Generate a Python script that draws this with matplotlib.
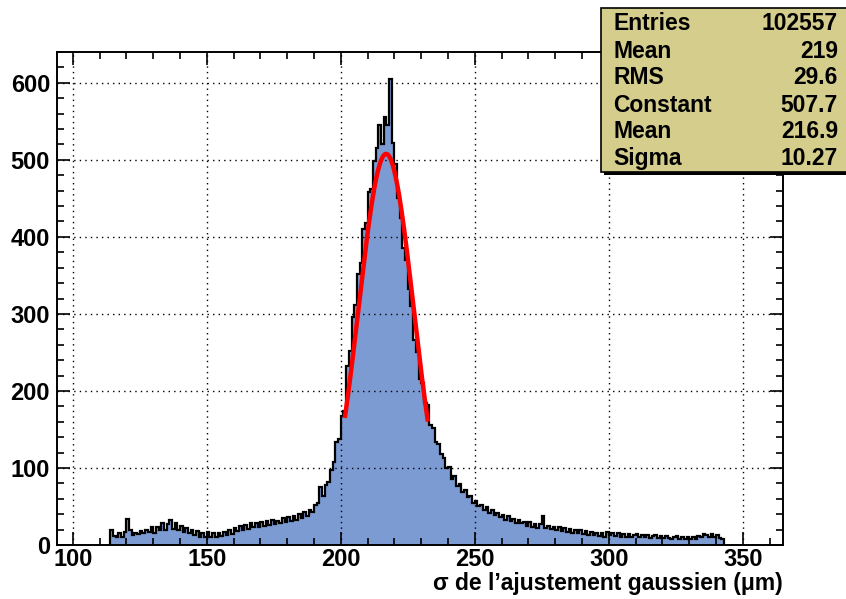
import numpy as np
import matplotlib.pyplot as plt
from matplotlib.patches import Rectangle
from matplotlib.ticker import MultipleLocator

# histogram contents, 1 um bins starting at 114 um
bin_start = 114
counts = [
    19, 12, 10, 15, 11, 17, 34, 19, 13, 16,   # 114-123
    14, 18, 15, 20, 17, 23, 16, 24, 19, 28,   # 124-133
    20, 27, 32, 21, 29, 19, 25, 17, 22, 15,   # 134-143
    20, 13, 18, 11, 15, 10, 17, 11, 15, 10,   # 144-153
    16, 12, 17, 13, 19, 14, 22, 18, 25, 20,   # 154-163
    26, 21, 28, 23, 29, 24, 30, 25, 31, 26,   # 164-173
    33, 27, 31, 28, 35, 30, 36, 31, 38, 33,   # 174-183
    40, 35, 43, 38, 46, 43, 52, 55, 75, 64,   # 184-193
    78, 82, 98, 108, 134, 138, 168, 174, 232, 252,   # 194-203
    296, 312, 352, 366, 410, 418, 458, 462, 498, 515,  # 204-213
    545, 520, 555, 545, 605, 522, 495, 450, 425, 385,  # 214-223
    370, 332, 310, 266, 250, 215, 210, 184, 182, 156,  # 224-233
    152, 134, 131, 118, 113, 100, 101, 86, 90, 77,    # 234-243
    79, 69, 71, 62, 63, 55, 57, 50, 52, 46,           # 244-253
    49, 42, 45, 39, 42, 36, 39, 33, 38, 31,           # 254-263
    34, 29, 32, 28, 30, 25, 30, 24, 27, 22,           # 264-273
    27, 37, 22, 25, 21, 24, 19, 23, 18, 22,           # 274-283
    17, 21, 16, 20, 15, 19, 14, 18, 13, 17,           # 284-293
    13, 16, 12, 16, 11, 17, 13, 15, 12, 15,           # 294-303
    11, 14, 11, 14, 10, 13, 14, 10, 13, 10,           # 304-313
    13, 9, 12, 13, 9, 12, 9, 12, 9, 8,                # 314-323
    11, 12, 8, 11, 8, 11, 8, 11, 8, 12,               # 324-333
    11, 14, 13, 11, 14, 10, 13, 9, 8,                 # 334-342
]

# gaussian fit parameters and fit range
fit_const = 507.7
fit_mean = 216.9
fit_sigma = 10.27
fit_range = (201.5, 232.5)

stats_names = ['Entries', 'Mean', 'RMS', 'Constant', 'Mean', 'Sigma']
stats_values = ['102557', '219', '29.6', '507.7', '216.9', '10.27']

plt.rcParams['font.family'] = ['Liberation Sans', 'DejaVu Sans']
plt.rcParams['font.weight'] = 'bold'

fig = plt.figure(figsize=(8.46, 5.99), dpi=100)
ax = fig.add_axes([57 / 846, 1 - 545 / 599, (783 - 57) / 846, (545 - 52) / 599])

edges = np.arange(bin_start, bin_start + len(counts) + 1)
ax.stairs(counts, edges, fill=True, color='#7b9bd2', baseline=0)
ax.stairs(counts, edges, color='black', lw=1.6, baseline=0)

xf = np.linspace(fit_range[0], fit_range[1], 200)
ax.plot(xf, fit_const * np.exp(-0.5 * ((xf - fit_mean) / fit_sigma) ** 2),
        color='red', lw=3.2, solid_capstyle='butt')

ax.set_xlim(94.1, 365)
ax.set_ylim(0, 640)
ax.xaxis.set_major_locator(MultipleLocator(50))
ax.xaxis.set_minor_locator(MultipleLocator(10))
ax.yaxis.set_major_locator(MultipleLocator(100))
ax.yaxis.set_minor_locator(MultipleLocator(20))
ax.tick_params(which='both', direction='in', top=True, right=True, width=1.2,
               labelsize=17)
ax.tick_params(which='major', length=9.5)
ax.tick_params(which='minor', length=5)
ax.tick_params(axis='x', pad=2)
ax.tick_params(axis='y', pad=5)
ax.grid(True, which='major', color='black', ls=(0, (1, 3)), lw=1)
for s in ax.spines.values():
    s.set_linewidth(1.4)

ax.set_xlabel('σ de l’ajustement gaussien (μm)', fontsize=16.5, fontweight='bold',
              loc='right', labelpad=1)

# stats box
box = Rectangle((601 / 846, 1 - 172 / 599), 1, (172 - 8) / 599,
                transform=fig.transFigure, facecolor='#d4cd8c',
                edgecolor='black', lw=1.2, zorder=5)
shadow = Rectangle((604 / 846, 1 - 175 / 599), 1, (172 - 8) / 599,
                   transform=fig.transFigure, facecolor='black', zorder=4)
fig.patches.extend([shadow, box])
row_y = [23, 51, 78, 105, 132, 158]
for name, val, yp in zip(stats_names, stats_values, row_y):
    fig.text(613 / 846, 1 - yp / 599, name, fontsize=16.5, fontweight='bold',
             va='center', ha='left', zorder=6)
    fig.text(838 / 846, 1 - yp / 599, val, fontsize=16.5, fontweight='bold',
             va='center', ha='right', zorder=6)

fig.savefig('out.png', dpi=100)
